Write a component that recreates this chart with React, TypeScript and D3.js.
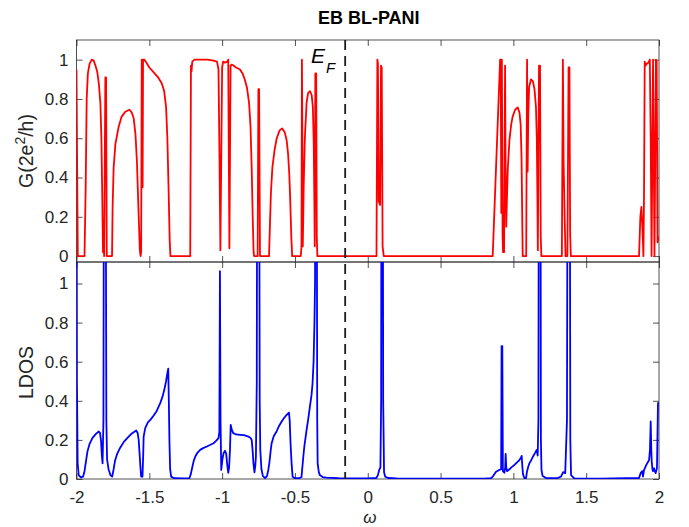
import * as d3 from "d3";
import React, { useEffect, useRef } from "react";

const width = 689;
const height = 527;
const plot = { left: 76.5, right: 659, top: 40, mid: 262, bottom: 479 };
const font = "'Liberation Sans', Arial, Helvetica, sans-serif";
const axisColor = "#262626";

// tick values
const xTicks = [-2, -1.5, -1, -0.5, 0, 0.5, 1, 1.5, 2];
const gTicks = [0, 0.2, 0.4, 0.6, 0.8, 1];
const ldosTicks = [0, 0.2, 0.4, 0.6, 0.8, 1];
const fermiLevel = -0.155;

// conductance G(2e^2/h) vs omega
const conductance: [number, number][] = [
  [-2.0, 0.95], [-1.996, 0.5], [-1.991, 0], [-1.945, 0], [-1.937, 0.35], [-1.93, 0.8],
  [-1.922, 0.93], [-1.91, 0.98], [-1.895, 1.0], [-1.882, 0.995], [-1.87, 0.97], [-1.858, 0.94],
  [-1.847, 0.88], [-1.836, 0.78], [-1.829, 0.6], [-1.823, 0.3], [-1.818, 0.02], [-1.814, 0.06],
  [-1.81, 0], [-1.802, 0.91], [-1.797, 0.91], [-1.792, 0], [-1.756, 0], [-1.752, 0.25],
  [-1.745, 0.45], [-1.733, 0.57], [-1.71, 0.66], [-1.69, 0.71], [-1.665, 0.735], [-1.637, 0.745],
  [-1.62, 0.73], [-1.607, 0.7], [-1.595, 0.62], [-1.585, 0.48], [-1.575, 0.25], [-1.565, 0.03],
  [-1.56, 0], [-1.556, 0.02], [-1.552, 1.0], [-1.549, 0.98], [-1.546, 0.35], [-1.543, 1.0],
  [-1.534, 1.0], [-1.52, 0.985], [-1.5, 0.96], [-1.47, 0.935], [-1.44, 0.91], [-1.415, 0.88],
  [-1.398, 0.84], [-1.385, 0.76], [-1.376, 0.6], [-1.368, 0.35], [-1.36, 0.08], [-1.355, 0],
  [-1.219, 0], [-1.214, 0.97], [-1.21, 0.94], [-1.205, 0.99], [-1.19, 1.0], [-1.1, 1.0],
  [-1.06, 0.995], [-1.035, 0.99], [-1.025, 0.95], [-1.018, 0.5], [-1.012, 0.03], [-1.006, 0.5],
  [-1.0, 0.96], [-0.993, 0.99], [-0.98, 0.985], [-0.965, 0.99], [-0.958, 1.0], [-0.954, 0.5],
  [-0.95, 0.04], [-0.946, 0.5], [-0.942, 0.97], [-0.935, 0.975], [-0.922, 0.97], [-0.905, 0.96],
  [-0.89, 0.955], [-0.877, 0.95], [-0.86, 0.93], [-0.845, 0.9], [-0.83, 0.86], [-0.815, 0.78],
  [-0.805, 0.66], [-0.797, 0.45], [-0.79, 0.2], [-0.784, 0.02], [-0.78, 0], [-0.756, 0],
  [-0.751, 0.85], [-0.746, 0.85], [-0.74, 0], [-0.678, 0], [-0.672, 0.15], [-0.665, 0.32],
  [-0.655, 0.45], [-0.64, 0.54], [-0.625, 0.6], [-0.605, 0.64], [-0.588, 0.65], [-0.57, 0.63],
  [-0.557, 0.59], [-0.547, 0.52], [-0.539, 0.42], [-0.532, 0.28], [-0.525, 0.1], [-0.519, 0],
  [-0.46, 0], [-0.455, 0.05], [-0.452, 1.0], [-0.449, 0.6], [-0.446, 0.05], [-0.44, 0.35],
  [-0.432, 0.6], [-0.42, 0.78], [-0.41, 0.83], [-0.397, 0.84], [-0.385, 0.82], [-0.377, 0.76],
  [-0.371, 0.58], [-0.367, 0.3], [-0.364, 0.05], [-0.36, 0.93], [-0.354, 0.93], [-0.35, 0.1],
  [-0.346, 0], [0.06, 0], [0.066, 1.0], [0.07, 0.98], [0.075, 0.28], [0.085, 0.26],
  [0.091, 0.97], [0.096, 0.96], [0.102, 0.05], [0.11, 0], [0.858, 0], [0.909, 1.0],
  [0.913, 1.0], [0.917, 0.22], [0.921, 1.0], [0.926, 0.1], [0.929, 0.02], [0.936, 0.02],
  [0.943, 0.97], [0.946, 0.5], [0.951, 0.15], [0.956, 0.3], [0.962, 0.45], [0.973, 0.59],
  [0.985, 0.67], [0.995, 0.71], [1.012, 0.745], [1.03, 0.757], [1.042, 0.73], [1.05, 0.67],
  [1.056, 0.5], [1.06, 0.25], [1.064, 0], [1.088, 0], [1.094, 1.0], [1.098, 0.43],
  [1.102, 0.7], [1.108, 0.86], [1.121, 0.9], [1.134, 0.89], [1.145, 0.85], [1.155, 0.76],
  [1.161, 0.6], [1.165, 0.3], [1.168, 0.03], [1.176, 0.97], [1.183, 0.97], [1.188, 0.1],
  [1.192, 0], [1.333, 0], [1.34, 1.0], [1.345, 0.48], [1.352, 0.2], [1.358, 0],
  [1.371, 0], [1.379, 0.96], [1.385, 0.96], [1.39, 0.1], [1.395, 0], [1.863, 0],
  [1.872, 0.2], [1.879, 0.25], [1.886, 0.15], [1.893, 0], [1.897, 0.3], [1.902, 0.99],
  [1.908, 0.97], [1.915, 0.98], [1.922, 0.98], [1.93, 0.99], [1.937, 1.0], [1.943, 0.6],
  [1.949, 0], [1.954, 0.5], [1.959, 1.0], [1.964, 0.5], [1.969, 0], [1.975, 0.6],
  [1.979, 1.0], [1.984, 0.99], [1.99, 0.07], [2.0, 0.1],
];

// local density of states vs omega (peaks above 1.11 are clipped)
const ldos: [number, number][] = [
  [-2.0, 2.5], [-1.997, 0.5], [-1.992, 0.08], [-1.985, 0.02], [-1.97, 0.008], [-1.955, 0.012],
  [-1.945, 0.04], [-1.937, 0.08], [-1.925, 0.14], [-1.91, 0.18], [-1.89, 0.21], [-1.865, 0.232],
  [-1.847, 0.243], [-1.838, 0.235], [-1.831, 0.19], [-1.826, 0.12], [-1.821, 0.08], [-1.815, 0.3],
  [-1.81, 2.5], [-1.802, 2.5], [-1.795, 0.3], [-1.79, 0.1], [-1.78, 0.05], [-1.767, 0.02],
  [-1.755, 0.012], [-1.745, 0.05], [-1.735, 0.095], [-1.72, 0.13], [-1.7, 0.16], [-1.675, 0.19],
  [-1.65, 0.21], [-1.62, 0.233], [-1.6, 0.243], [-1.59, 0.248], [-1.58, 0.235], [-1.573, 0.2],
  [-1.566, 0.12], [-1.561, 0.06], [-1.556, 0.012], [-1.547, 0.012], [-1.542, 0.12], [-1.539, 0.217],
  [-1.528, 0.26], [-1.51, 0.29], [-1.49, 0.305], [-1.47, 0.325], [-1.45, 0.347], [-1.425, 0.388],
  [-1.41, 0.42], [-1.397, 0.456], [-1.385, 0.5], [-1.375, 0.545], [-1.37, 0.564], [-1.366, 0.4],
  [-1.362, 0.2], [-1.357, 0.05], [-1.35, 0.012], [-1.33, 0.004], [-1.26, 0.003], [-1.225, 0.004],
  [-1.215, 0.025], [-1.208, 0.05], [-1.196, 0.09], [-1.185, 0.114], [-1.17, 0.134], [-1.151, 0.149],
  [-1.13, 0.158], [-1.105, 0.166], [-1.08, 0.175], [-1.059, 0.183], [-1.04, 0.196], [-1.025, 0.209],
  [-1.019, 0.24], [-1.015, 1.063], [-1.011, 0.3], [-1.006, 0.046], [-0.998, 0.1], [-0.99, 0.132],
  [-0.98, 0.144], [-0.972, 0.13], [-0.966, 0.08], [-0.958, 0.032], [-0.952, 0.06], [-0.946, 0.15],
  [-0.941, 0.277], [-0.935, 0.255], [-0.925, 0.236], [-0.905, 0.228], [-0.877, 0.226], [-0.85, 0.224],
  [-0.82, 0.217], [-0.805, 0.21], [-0.797, 0.2], [-0.79, 0.14], [-0.785, 0.08], [-0.778, 0.034],
  [-0.772, 0.07], [-0.768, 0.114], [-0.762, 0.5], [-0.758, 2.5], [-0.747, 2.5], [-0.742, 0.4],
  [-0.738, 0.149], [-0.73, 0.05], [-0.72, 0.015], [-0.705, 0.005], [-0.692, 0.015], [-0.683, 0.046],
  [-0.676, 0.08], [-0.671, 0.114], [-0.665, 0.155], [-0.66, 0.183], [-0.645, 0.22], [-0.626, 0.243],
  [-0.61, 0.27], [-0.591, 0.294], [-0.575, 0.312], [-0.557, 0.328], [-0.541, 0.34], [-0.536, 0.3],
  [-0.53, 0.18], [-0.523, 0.08], [-0.516, 0.012], [-0.5, 0.004], [-0.47, 0.004], [-0.455, 0.01],
  [-0.449, 0.06], [-0.443, 0.11], [-0.435, 0.17], [-0.42, 0.251], [-0.408, 0.31], [-0.397, 0.371],
  [-0.386, 0.43], [-0.379, 0.49], [-0.372, 0.6], [-0.366, 0.8], [-0.362, 1.0], [-0.358, 2.5],
  [-0.352, 2.5], [-0.347, 0.3], [-0.344, 0.08], [-0.336, 0.035], [-0.329, 0.02], [-0.31, 0.01],
  [-0.283, 0.007], [-0.2, 0.004], [-0.1, 0.003], [0.0, 0.003], [0.059, 0.005], [0.07, 0.02],
  [0.078, 0.045], [0.087, 0.06], [0.092, 0.4], [0.095, 2.5], [0.102, 2.5], [0.106, 0.4],
  [0.112, 0.034], [0.12, 0.012], [0.139, 0.005], [0.2, 0.003], [0.5, 0.002], [0.8, 0.002],
  [0.847, 0.004], [0.858, 0.012], [0.87, 0.025], [0.881, 0.037], [0.9, 0.045], [0.916, 0.05],
  [0.919, 0.68], [0.924, 0.68], [0.928, 0.04], [0.938, 0.032], [0.944, 0.06], [0.947, 0.128],
  [0.951, 0.06], [0.956, 0.04], [0.973, 0.05], [0.99, 0.062], [1.007, 0.072], [1.025, 0.085],
  [1.041, 0.097], [1.052, 0.108], [1.057, 0.118], [1.061, 0.07], [1.066, 0.025], [1.075, 0.005],
  [1.087, 0.005], [1.094, 0.04], [1.103, 0.065], [1.11, 0.08], [1.125, 0.1], [1.137, 0.118],
  [1.15, 0.135], [1.16, 0.149], [1.167, 0.12], [1.172, 0.3], [1.176, 2.5], [1.185, 2.5],
  [1.189, 0.2], [1.193, 0.046], [1.201, 0.015], [1.224, 0.005], [1.3, 0.004], [1.327, 0.012],
  [1.342, 0.035], [1.356, 0.03], [1.368, 0.3], [1.374, 2.5], [1.386, 2.5], [1.391, 0.2],
  [1.396, 0.02], [1.418, 0.003], [1.6, 0.002], [1.863, 0.005], [1.874, 0.03], [1.885, 0.04],
  [1.89, 0.012], [1.897, 0.046], [1.913, 0.072], [1.932, 0.097], [1.938, 0.15], [1.943, 0.294],
  [1.947, 0.15], [1.95, 0.09], [1.955, 0.05], [1.959, 0.04], [1.966, 0.055], [1.972, 0.04],
  [1.977, 0.03], [1.986, 0.055], [1.993, 0.388], [2.0, 0.39],
];

const xScale = d3.scaleLinear().domain([-2, 2]).range([plot.left, plot.right]);
const gScale = d3.scaleLinear().domain([-0.03, 1.1]).range([plot.mid, plot.top]);
const ldosScale = d3.scaleLinear().domain([0, 1.11]).range([plot.bottom, plot.mid]);

const fmt = (d: d3.NumberValue) => String(d);

// MATLAB style box axes with inward ticks on all four sides
function drawPanel(node: SVGGElement, yScale: d3.ScaleLinear<number, number>, yTicks: number[], showX: boolean) {
  const g = d3.select(node);
  g.selectAll("*").remove();
  const [y0, y1] = yScale.range();
  const tick = 6;

  g.append("g")
    .attr("transform", `translate(0,${y0})`)
    .call(d3.axisBottom(xScale).tickValues(xTicks).tickSize(-tick).tickSizeOuter(0).tickPadding(12)
      .tickFormat(showX ? fmt : () => ""));
  g.append("g")
    .attr("transform", `translate(0,${y1})`)
    .call(d3.axisTop(xScale).tickValues(xTicks).tickSize(-tick).tickSizeOuter(0).tickFormat(() => ""));
  g.append("g")
    .attr("transform", `translate(${plot.left},0)`)
    .call(d3.axisLeft(yScale).tickValues(yTicks).tickSize(-tick).tickSizeOuter(0).tickPadding(8).tickFormat(fmt));
  g.append("g")
    .attr("transform", `translate(${plot.right},0)`)
    .call(d3.axisRight(yScale).tickValues(yTicks).tickSize(-tick).tickSizeOuter(0).tickFormat(() => ""));

  g.selectAll("path.domain").remove();
  g.selectAll(".tick line").attr("stroke", axisColor).attr("stroke-width", 0.8);
  g.selectAll(".tick text")
    .attr("fill", axisColor)
    .style("font-family", font)
    .style("font-size", "17px");

  g.append("rect")
    .attr("x", plot.left)
    .attr("y", y1)
    .attr("width", plot.right - plot.left)
    .attr("height", y0 - y1)
    .attr("fill", "none")
    .attr("stroke", axisColor)
    .attr("stroke-width", 0.8);
}

const App = () => {
  const gAxisRef = useRef<SVGGElement>(null);
  const ldosAxisRef = useRef<SVGGElement>(null);

  useEffect(() => {
    if (gAxisRef.current) drawPanel(gAxisRef.current, gScale, gTicks, false);
    if (ldosAxisRef.current) drawPanel(ldosAxisRef.current, ldosScale, ldosTicks, true);
  }, []);

  const gLine = d3.line<[number, number]>().x((d) => xScale(d[0])).y((d) => gScale(d[1]));
  const ldosLine = d3.line<[number, number]>().x((d) => xScale(d[0])).y((d) => ldosScale(d[1]));
  const xF = xScale(fermiLevel);
  const midX = (plot.left + plot.right) / 2;

  return (
    <svg width={width} height={height} style={{ position: "absolute", left: 0, top: 0, background: "#fff" }}>
      <defs>
        <clipPath id="clip-g">
          <rect x={plot.left} y={plot.top} width={plot.right - plot.left} height={plot.mid - plot.top} />
        </clipPath>
        <clipPath id="clip-ldos">
          <rect x={plot.left} y={plot.mid} width={plot.right - plot.left} height={plot.bottom - plot.mid} />
        </clipPath>
      </defs>
      <rect width={width} height={height} fill="#fff" />

      <g ref={gAxisRef} />
      <g ref={ldosAxisRef} />

      <path d={gLine(conductance) ?? ""} fill="none" stroke="#ff0000" strokeWidth={1.8}
        strokeLinejoin="round" clipPath="url(#clip-g)" />
      <path d={ldosLine(ldos) ?? ""} fill="none" stroke="#0000ff" strokeWidth={1.8}
        strokeLinejoin="round" clipPath="url(#clip-ldos)" />

      {/* Fermi level */}
      <line x1={xF} x2={xF} y1={plot.top} y2={plot.bottom} stroke="#1a1a1a" strokeWidth={1.8}
        strokeDasharray="10,6" />
      <text x={311} y={63} fontFamily={font} fontStyle="italic" fontSize={21} fill="#000">E</text>
      <text x={326} y={73} fontFamily={font} fontStyle="italic" fontSize={15} fill="#000">F</text>

      <text x={midX + 1} y={24} textAnchor="middle" fontFamily={font} fontWeight="bold" fontSize={18}
        fill="#000">EB BL-PANI</text>

      <text transform={`translate(33,${(plot.top + plot.mid) / 2}) rotate(-90)`} textAnchor="middle"
        fontFamily={font} fontSize={19.5} fill={axisColor}>
        <tspan>G(2e</tspan>
        <tspan dy={-8} fontSize={14}>2</tspan>
        <tspan dy={8}>/h)</tspan>
      </text>
      <text transform={`translate(33,${(plot.mid + plot.bottom) / 2 + 2}) rotate(-90)`} textAnchor="middle"
        fontFamily={font} fontSize={19.5} fill={axisColor}>LDOS</text>

      <text x={midX + 2} y={523} textAnchor="middle" fontFamily={font} fontStyle="italic" fontSize={17}
        fill={axisColor}>ω</text>
    </svg>
  );
};

export default App;
